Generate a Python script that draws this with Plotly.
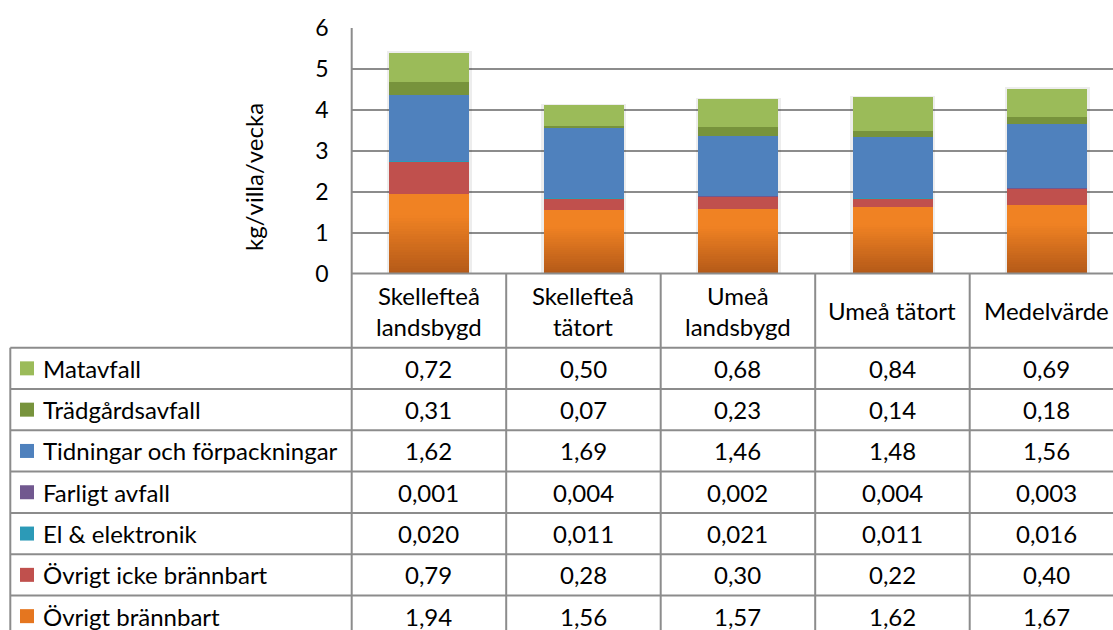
import plotly.graph_objects as go

# ---- data -------------------------------------------------------------
categories = ["Skellefteå landsbygd", "Skellefteå tätort", "Umeå landsbygd",
              "Umeå tätort", "Medelvärde"]
header_labels = ["Skellefteå<br>landsbygd", "Skellefteå<br>tätort", "Umeå<br>landsbygd",
                 "Umeå tätort", "Medelvärde"]

# stack order: bottom first
ovrigt_brannbart = [1.94, 1.56, 1.57, 1.62, 1.67]
ovrigt_icke_brannbart = [0.79, 0.28, 0.30, 0.22, 0.40]
el_elektronik = [0.020, 0.011, 0.021, 0.011, 0.016]
farligt_avfall = [0.001, 0.004, 0.002, 0.004, 0.003]
tidningar_forpackningar = [1.62, 1.69, 1.46, 1.48, 1.56]
tradgardsavfall = [0.31, 0.07, 0.23, 0.14, 0.18]
matavfall = [0.72, 0.50, 0.68, 0.84, 0.69]

y_ticks = [0, 1, 2, 3, 4, 5, 6]
y_title = "kg/villa/vecka"

# (name, values, decimals shown in table, colour)
series = [
    ("Övrigt brännbart", ovrigt_brannbart, 2, "#E5761F"),
    ("Övrigt icke brännbart", ovrigt_icke_brannbart, 2, "#C0504D"),
    ("El & elektronik", el_elektronik, 3, "#2C9AB7"),
    ("Farligt avfall", farligt_avfall, 3, "#71588F"),
    ("Tidningar och förpackningar", tidningar_forpackningar, 2, "#4F81BD"),
    ("Trädgårdsavfall", tradgardsavfall, 2, "#77933C"),
    ("Matavfall", matavfall, 2, "#9BBB59"),
]

# ---- geometry ---------------------------------------------------------
W, H = 1113, 630
FONT = "Lato"
FS = 24
TICK_FS = 23
LINE = "#8C8C8C"
TXT = "#000000"

plot_left = 351.7
col_w = 154.5
plot_top, plot_bottom = 28.0, 273.5
header_bottom = 347.7
row_h = 41.3
table_left = 10.3


def px(x):
    return x / W


def py(y):
    return 1 - y / H


def lerp(c1, c2, t):
    a = [int(c1[i:i + 2], 16) for i in (1, 3, 5)]
    b = [int(c2[i:i + 2], 16) for i in (1, 3, 5)]
    return "rgb(%d,%d,%d)" % tuple(round(a[k] + (b[k] - a[k]) * t) for k in range(3))


fig = go.Figure()
bar_w = 0.518

# soft drop shadow behind each column (base subplot, drawn underneath)
totals = [sum(s[1][i] for s in series) for i in range(len(categories))]
fig.add_trace(go.Bar(x=categories, y=[t + 0.03 for t in totals], width=bar_w + 0.03,
                     marker=dict(color="rgba(0,0,0,0.07)", line=dict(width=0)),
                     xaxis="x", yaxis="y", showlegend=False, hoverinfo="skip"))

# bottom series gets a vertical gradient: drawn as thin stacked slices
N_SLICES = 30
dark, bright = "#B55A18", "#F08223"
for k in range(N_SLICES):
    t = k / (N_SLICES - 1)
    fig.add_trace(go.Bar(
        x=categories, y=[v / N_SLICES for v in ovrigt_brannbart],
        width=bar_w, marker=dict(color=lerp(dark, bright, min(1, t * 1.35)), line=dict(width=0)),
        xaxis="x2", yaxis="y", showlegend=False, hoverinfo="skip"))

for name, vals, _, color in series[1:]:
    fig.add_trace(go.Bar(
        x=categories, y=vals, name=name, width=bar_w,
        marker=dict(color=color, line=dict(width=0)),
        xaxis="x2", yaxis="y", showlegend=False))

shapes = []
annots = []


def hline(y, x0, x1):
    shapes.append(dict(type="line", xref="paper", yref="paper",
                       x0=px(x0), x1=px(x1), y0=py(y), y1=py(y),
                       line=dict(color=LINE, width=2), layer="above"))


def vline(x, y0, y1):
    shapes.append(dict(type="line", xref="paper", yref="paper",
                       x0=px(x), x1=px(x), y0=py(y0), y1=py(y1),
                       line=dict(color=LINE, width=2), layer="above"))

# value axis line, category axis line and the data-table grid
vline(plot_left, plot_top, H + 5)
hline(plot_bottom, plot_left, W + 5)
for k in range(1, 6):
    vline(plot_left + k * col_w, plot_bottom, H + 5)
for r in range(len(series) + 1):
    hline(header_bottom + r * row_h, table_left, W + 5)
vline(table_left, header_bottom, H + 5)

# column headers
for i, lab in enumerate(header_labels):
    annots.append(dict(x=i, xref="x", y=py((plot_bottom + header_bottom) / 2), yref="paper",
                       text=lab, showarrow=False, font=dict(family=FONT, size=FS, color=TXT),
                       xanchor="center", yanchor="middle"))

# table rows: top row is the top of the stack
for r, (name, vals, dec, color) in enumerate(reversed(series)):
    yc = header_bottom + (r + 0.5) * row_h
    shapes.append(dict(type="rect", xref="paper", yref="paper",
                       x0=px(20), x1=px(34), y0=py(yc - 7), y1=py(yc + 7),
                       fillcolor=color, line=dict(width=0)))
    annots.append(dict(x=px(41), xref="paper", y=py(yc), yref="paper", text=name,
                       showarrow=False, xanchor="left", yanchor="middle",
                       font=dict(family=FONT, size=FS, color=TXT)))
    for i, v in enumerate(vals):
        annots.append(dict(x=i, xref="x", y=py(yc), yref="paper",
                           text=f"{v:.{dec}f}".replace(".", ","), showarrow=False,
                           xanchor="center", yanchor="middle",
                           font=dict(family=FONT, size=FS, color=TXT)))

# y-axis title
annots.append(dict(x=px(253), xref="paper", y=py(177), yref="paper",
                   text=y_title, textangle=-90, showarrow=False,
                   xanchor="center", yanchor="middle",
                   font=dict(family=FONT, size=FS, color=TXT)))

x_common = dict(domain=[px(plot_left), 1], range=[-0.5, -0.5 + (W - plot_left) / col_w],
                showticklabels=False, showgrid=False, zeroline=False, showline=False,
                fixedrange=True)

fig.update_layout(
    width=W, height=H, margin=dict(l=0, r=0, t=0, b=0, autoexpand=False),
    paper_bgcolor="white", plot_bgcolor="white",
    barmode="stack", bargap=0,
    shapes=shapes, annotations=annots,
    xaxis=x_common,
    xaxis2=dict(x_common, overlaying="x", anchor="y"),
    yaxis=dict(domain=[py(plot_bottom), py(plot_top)], range=[0, 6], tickvals=y_ticks,
               showgrid=True, gridcolor=LINE, gridwidth=2, zeroline=False, showline=False,
               ticks="", ticklabelstandoff=22, automargin=False,
               tickfont=dict(family=FONT, size=TICK_FS, color=TXT), fixedrange=True),
    showlegend=False,
)

fig.write_html("out.html")
